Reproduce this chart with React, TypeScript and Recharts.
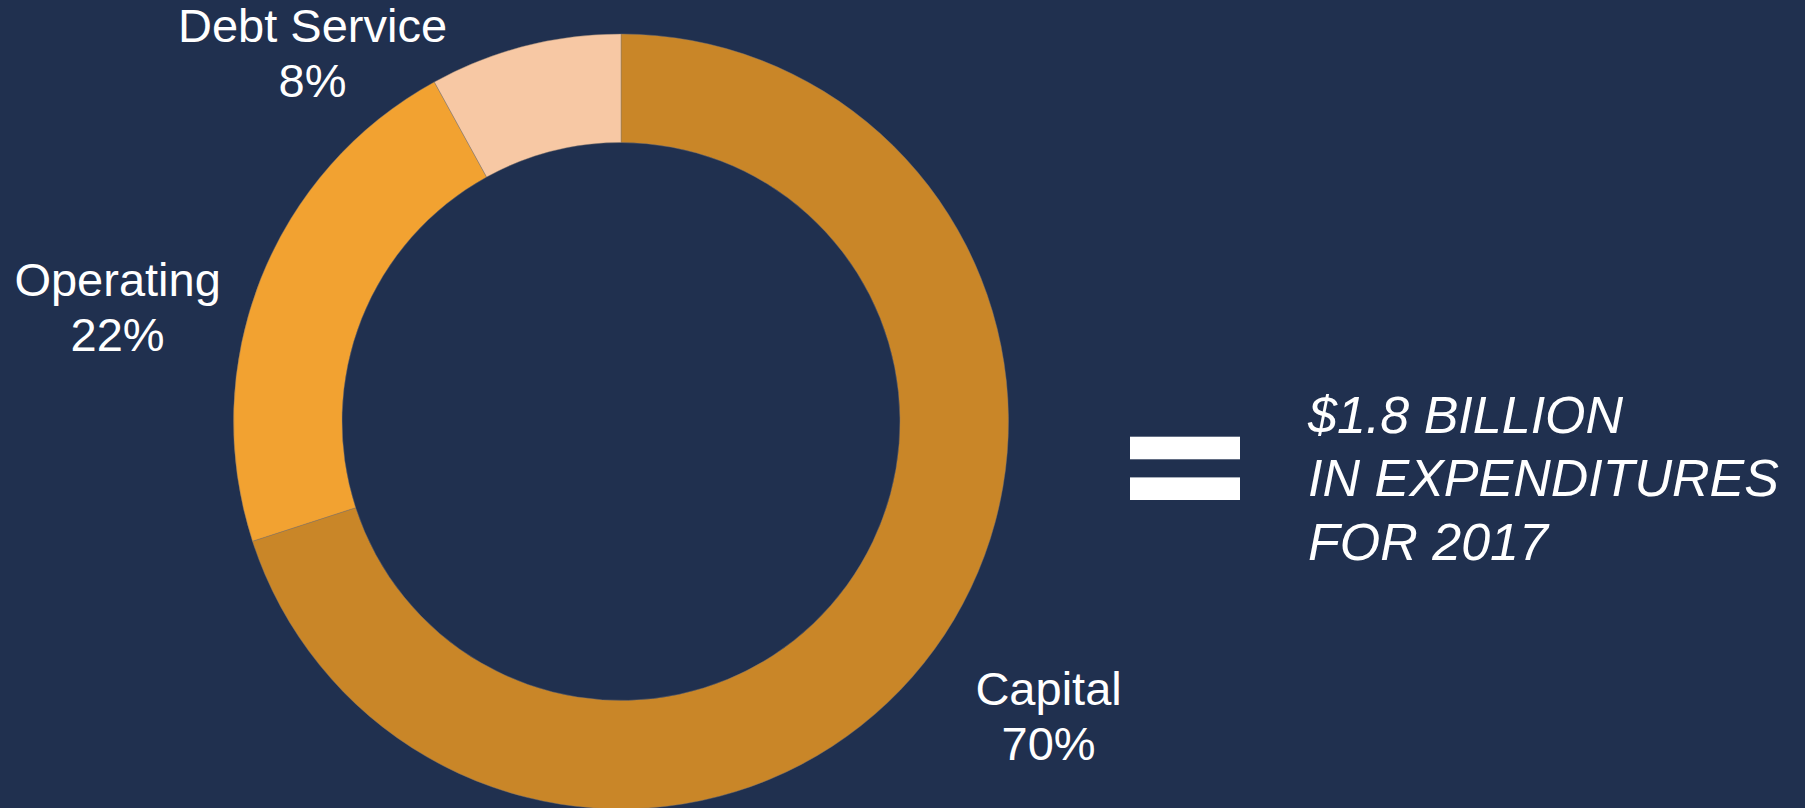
import React from "react";
import { PieChart, Pie, Cell } from "recharts";

const categories = ["Capital", "Operating", "Debt Service"];
const shares = [70, 22, 8];
const sliceColors = ["#C98628", "#F2A231", "#F7C8A4"];
const headlineLines = ["$1.8 BILLION", "IN EXPENDITURES", "FOR 2017"];

const data = categories.map((name, i) => ({ name, value: shares[i] }));

const W = 1805;
const H = 808;
const BG = "#20304F";
const FONT = "'Liberation Sans', Arial, Helvetica, sans-serif";

// manual label nudges (as in the original slide, two labels were moved by hand)
const labelNudge: Record<string, [number, number]> = {
  Capital: [0, 0],
  Operating: [-12, 96],
  "Debt Service": [-177, 159],
};

const RADIAN = Math.PI / 180;

const renderLabel = (props: any) => {
  const { cx, cy, midAngle, outerRadius } = props;
  const name: string = props.payload?.name ?? props.name;
  const value: number = props.payload?.value ?? props.value;
  const r = outerRadius + 141;
  const [nx, ny] = labelNudge[name] || [0, 0];
  const x = cx + Math.cos(-midAngle * RADIAN) * r + nx;
  const y = cy + Math.sin(-midAngle * RADIAN) * r + ny;
  return (
    <g>
      <text x={x} y={y - 27} textAnchor="middle" fill="#FFFFFF" fontSize={47} fontFamily={FONT}>
        {name}
      </text>
      <text x={x} y={y + 28} textAnchor="middle" fill="#FFFFFF" fontSize={47} fontFamily={FONT}>
        {`${value}%`}
      </text>
    </g>
  );
};

export default function App() {
  return (
    <div
      style={{
        position: "absolute",
        left: 0,
        top: 0,
        width: W,
        height: H,
        background: BG,
        overflow: "hidden",
      }}
    >
      <PieChart width={W} height={H} margin={{ top: 0, right: 0, bottom: 0, left: 0 }}>
        <Pie
          data={data}
          dataKey="value"
          nameKey="name"
          cx={621}
          cy={421.5}
          innerRadius={279}
          outerRadius={387.5}
          startAngle={90}
          endAngle={-270}
          stroke="rgba(130,120,110,0.55)"
          strokeWidth={0.8}
          label={renderLabel}
          labelLine={false}
          isAnimationActive={false}
        >
          {data.map((d, i) => (
            <Cell key={d.name} fill={sliceColors[i]} />
          ))}
        </Pie>
      </PieChart>
      <svg
        width={W}
        height={H}
        style={{ position: "absolute", left: 0, top: 0, pointerEvents: "none" }}
      >
        <rect x={1130} y={436.7} width={110} height={22.6} fill="#FFFFFF" />
        <rect x={1130} y={477.4} width={110} height={22.6} fill="#FFFFFF" />
        {headlineLines.map((t, i) => (
          <text
            key={t}
            x={1308}
            y={432.7 + i * 63.7}
            fill="#FFFFFF"
            fontSize={52}
            fontStyle="italic"
            fontFamily={FONT}
          >
            {t}
          </text>
        ))}
      </svg>
    </div>
  );
}
